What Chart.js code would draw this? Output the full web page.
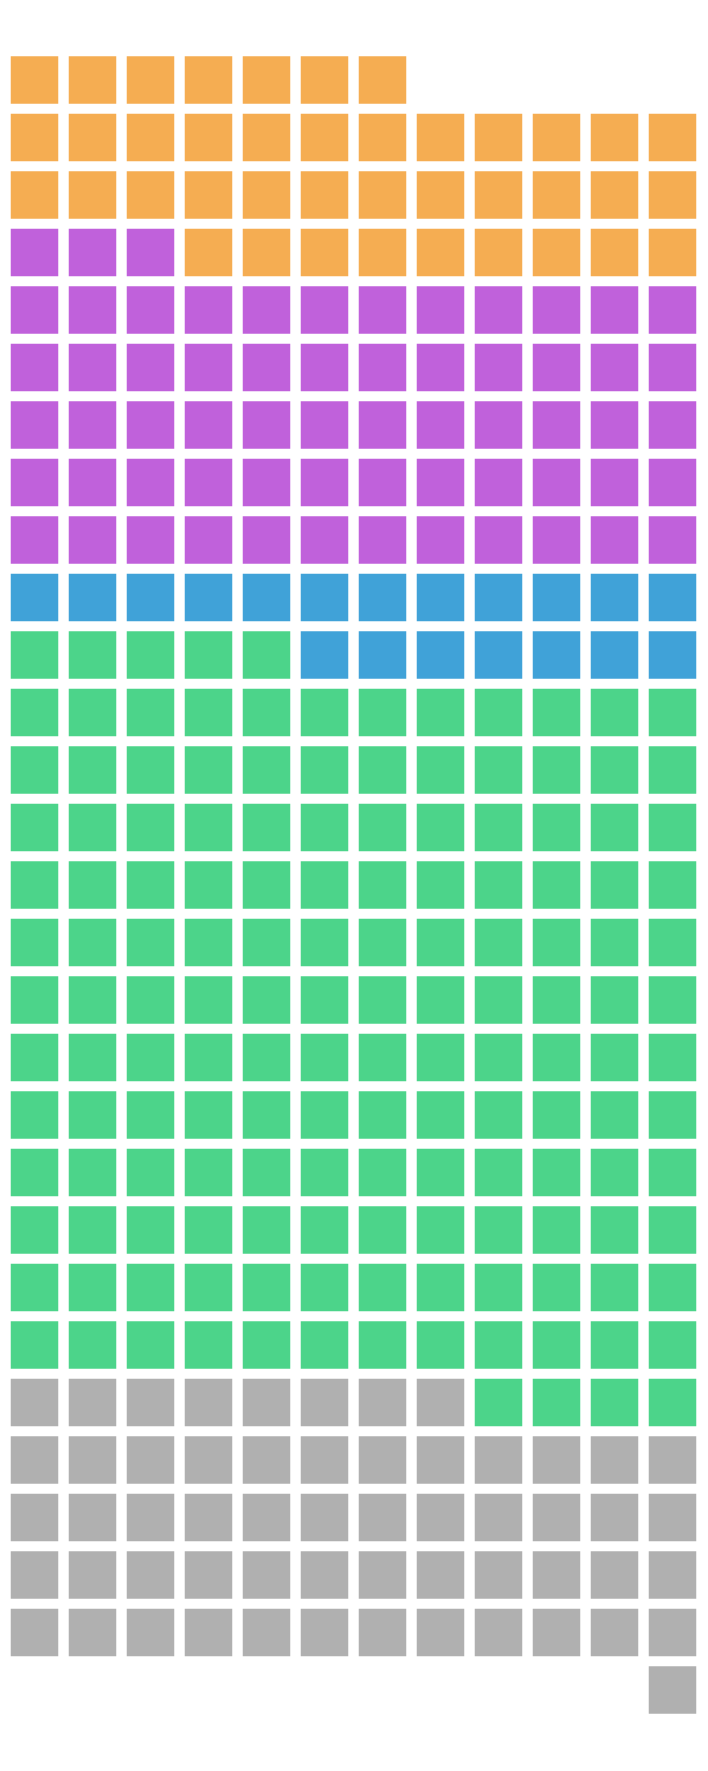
<!DOCTYPE html>
<html>
<head>
<meta charset="utf-8">
<script src="https://cdn.jsdelivr.net/npm/chart.js@4"></script>
<style>
  html, body { margin: 0; padding: 0; background: #fff; }
  #wrap { width: 708px; height: 1771px; position: relative; }
</style>
</head>
<body>
<div id="wrap"><canvas id="waffle"></canvas></div>
<script>
// waffle values, in fill order (bottom row first, left to right)
const categories = ['Other', 'Group D', 'Group C', 'Group B', 'Group A'];
const counts = [57, 153, 19, 63, 40];
const colors = ['#b0b0b0', '#4cd48a', '#40a2d8', '#c061db', '#f5ad52'];

const COLS = 12;
const START_CELL = 11; // first square sits in the last column of the bottom row

const datasets = [];
let cell = START_CELL;
categories.forEach((name, i) => {
    const pts = [];
    for (let k = 0; k < counts[i]; k++) {
        pts.push({ x: cell % COLS, y: Math.floor(cell / COLS) });
        cell++;
    }
    datasets.push({
        label: name,
        data: pts,
        backgroundColor: colors[i],
        borderWidth: 0,
        pointStyle: 'rect',
        pointRadius: 33.6,
        pointHoverRadius: 33.6,
        clip: false,
    });
});

const ctx = document.getElementById('waffle').getContext('2d');
new Chart(ctx, {
    type: 'scatter',
    data: { datasets: datasets },
    options: {
        responsive: true,
        maintainAspectRatio: false,
        animation: false,
        layout: { padding: 0, autoPadding: false },
        plugins: { legend: { display: false }, tooltip: { enabled: false } },
        scales: {
            x: { type: 'linear', display: false, min: -34.5 / 58, max: -34.5 / 58 + 708 / 58 },
            y: { type: 'linear', display: false, min: 28 + 80 / 57.5 - 1771 / 57.5, max: 28 + 80 / 57.5 }
        }
    }
});
</script>
</body>
</html>
